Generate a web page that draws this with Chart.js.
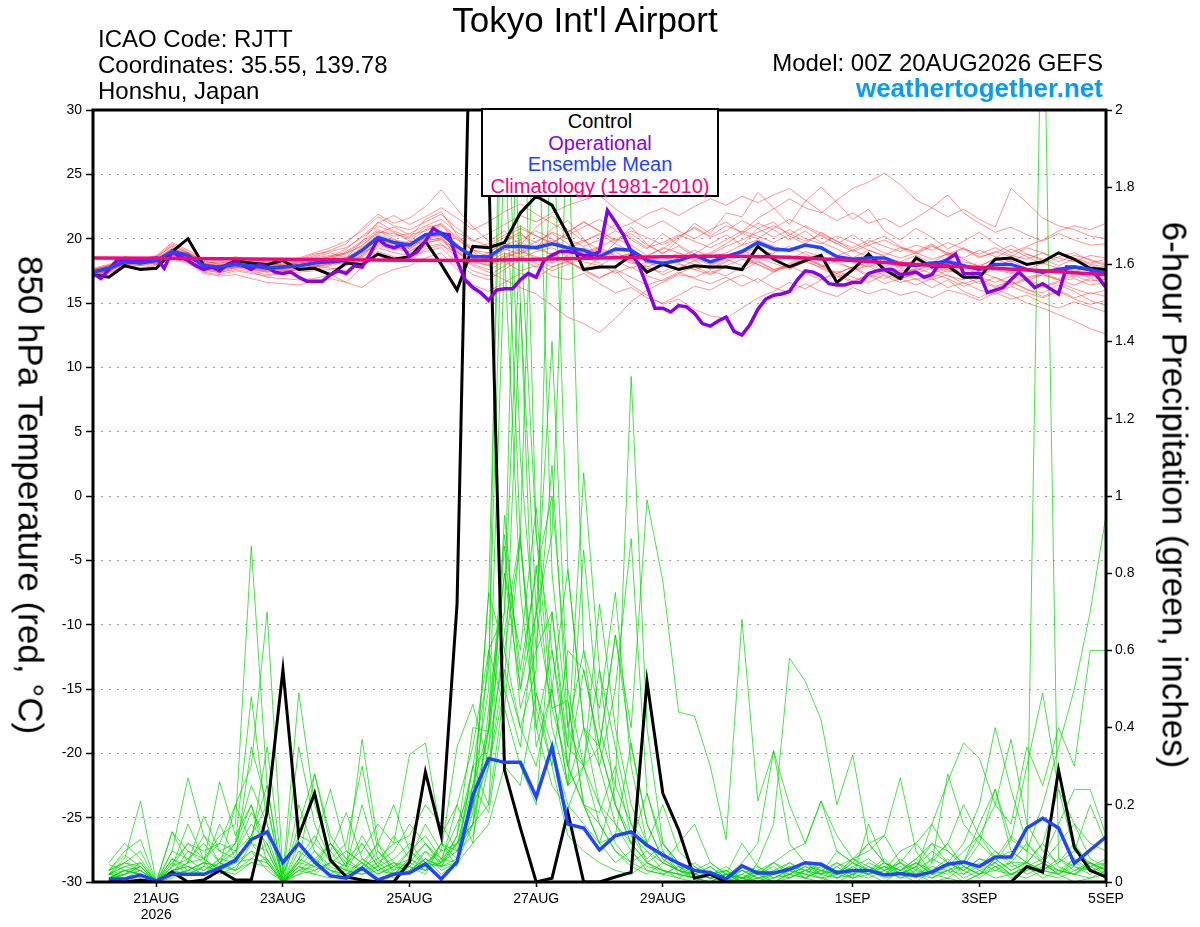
<!DOCTYPE html>
<html>
<head>
<meta charset="utf-8">
<title>Tokyo Int'l Airport - GEFS 850 hPa temperature and precipitation</title>
<script src="https://cdn.jsdelivr.net/npm/chart.js@4.4.1/dist/chart.umd.min.js"></script>
<style>
  html, body { margin: 0; padding: 0; background: #fff; }
  #wrap { position: relative; width: 1200px; height: 927px; overflow: hidden;
          font-family: 'Liberation Sans', Arial, sans-serif; color: #000; }
  #chart { position: absolute; left: 0; top: 0; }
  .txt { position: absolute; white-space: nowrap; line-height: 1; }
  #title { left: 585px; top: 2px; font-size: 35px; transform: translateX(-50%); }
  .info { left: 98px; font-size: 24px; }
  #model { right: 97px; top: 51px; font-size: 24px; }
  #site { right: 97px; top: 75px; font-size: 26px; font-weight: bold; color: #0a9bf5; }
  #legend { position: absolute; left: 481px; top: 108px; width: 238px; height: 89px;
            box-sizing: border-box; border: 2px solid #000; background: #fff;
            text-align: center; font-size: 20px; line-height: 21.5px; padding-top: 1px; }
  .axt { position: absolute; white-space: nowrap; font-size: 35px; line-height: 1;
         transform: translate(-50%, -50%) rotate(90deg); }
</style>
</head>
<body>
<div id="wrap">
  <canvas id="chart" width="1200" height="927"></canvas>
  <div class="txt" id="title">Tokyo Int'l Airport</div>
  <div class="txt info" style="top:27px">ICAO Code: RJTT</div>
  <div class="txt info" style="top:53px">Coordinates: 35.55, 139.78</div>
  <div class="txt info" style="top:79px">Honshu, Japan</div>
  <div class="txt" id="model">Model: 00Z 20AUG2026 GEFS</div>
  <div class="txt" id="site">weathertogether.net</div>
  <div id="legend">
    <div style="color:#000">Control</div>
    <div style="color:#8a00e8">Operational</div>
    <div style="color:#2244ff">Ensemble Mean</div>
    <div style="color:#f5047f">Climatology (1981-2010)</div>
  </div>
  <div class="axt" style="left:31px; top:495px">850 hPa Temperature (red, °C)</div>
  <div class="axt" style="left:1175px; top:495px">6-hour Precipitation (green, inches)</div>
</div>
<script>
// x axis: forecast hour from 00Z 20AUG2026
const tickHours = [24, 72, 120, 168, 216, 288, 336, 384];
const tickLabels = [["21AUG", "2026"], "23AUG", "25AUG", "27AUG", "29AUG", "1SEP", "3SEP", "5SEP"];

// 850 hPa temperature (C), 6-hourly, hour 0..384
const controlTemp = [17.2, 17.0, 17.9, 17.6, 17.7, 19.0, 20.0, 17.9, 17.7, 18.3, 18.1, 18.0, 18.3,
  17.6, 17.7, 17.2, 18.1, 18.0, 18.8, 18.4, 18.6, 19.8, 18.0, 16.0, 19.4, 19.3,
  19.7, 22.0, 23.3, 22.6, 20.3, 17.6, 17.8, 17.8, 18.7, 17.4, 18.0, 17.6, 17.9,
  17.8, 17.8, 17.6, 19.4, 18.4, 17.8, 18.3, 18.7, 16.6, 17.6, 18.8, 17.6, 16.9,
  18.5, 17.8, 17.9, 17.0, 17.0, 18.4, 18.5, 18.0, 18.2, 18.9, 18.4, 17.7, 17.6];

const meanTemp = [17.4, 17.7, 18.2, 18.1, 18.3, 19.0, 18.7, 17.9, 17.8, 18.0, 17.9, 17.7, 17.8,
  17.9, 18.1, 18.2, 18.3, 19.1, 20.1, 19.7, 19.5, 20.3, 20.4, 19.4, 18.6, 18.6,
  19.4, 19.4, 19.3, 19.6, 19.3, 19.1, 18.6, 19.2, 19.1, 18.3, 18.1, 18.3, 18.7,
  18.2, 18.6, 19.0, 19.7, 19.2, 19.1, 19.5, 19.3, 18.6, 18.4, 18.5, 18.5, 18.0,
  17.9, 18.1, 18.2, 17.9, 17.6, 18.0, 18.0, 17.6, 17.4, 17.6, 17.8, 17.6, 17.3];

// operational run is 3-hourly, hour 0..384
const operTemp = [17.3, 16.9, 17.6, 18.3, 18.3, 18.2, 18.3, 18.4, 18.5, 17.7, 19.0, 18.6, 18.3, 17.9, 17.6,
  17.8, 17.5, 18.0, 18.1, 17.9, 17.6, 18.0, 17.8, 17.4, 17.3, 17.4, 17.0, 16.7, 16.7, 16.7,
  17.2, 17.5, 17.3, 17.9, 17.8, 18.8, 20.0, 19.5, 19.3, 19.5, 18.6, 19.0, 19.8, 20.8,
  20.4, 20.3, 18.3, 16.8, 16.2, 15.8, 15.2, 16.0, 16.1, 16.1, 16.8, 17.3, 17.0, 18.3, 18.7,
  19.0, 19.0, 18.9, 18.7, 18.7, 19.0, 22.2, 21.3, 20.3, 19.0, 17.9, 16.3, 14.6, 14.6, 14.3,
  14.8, 14.7, 14.2, 13.4, 13.2, 13.6, 13.9, 12.8, 12.5, 13.3, 14.5, 15.3, 15.6, 15.7,
  15.9, 16.8, 17.5, 17.4, 17.1, 16.5, 16.4, 16.4, 16.6, 16.6, 17.3, 17.5, 17.6, 17.6,
  17.2, 17.3, 17.4, 17.0, 17.2, 18.1, 18.4, 18.8, 17.3, 17.3, 17.3, 15.8, 16.0, 16.2,
  16.8, 17.4, 16.8, 16.2, 16.5, 16.1, 15.7, 17.8, 17.8, 17.7, 17.6, 17.0, 16.2];

// climatology, daily at 00Z
const climoTemp = [18.5, 18.47, 18.43, 18.4, 18.36, 18.32, 18.3, 18.4, 18.5, 18.6, 18.65,
  18.55, 18.3, 18.0, 17.75, 17.5, 17.2];

// ensemble members, 850 hPa temperature, 6-hourly
const memberTemp = [
  [17.6,17.9,18.5,18.0,18.6,19.4,18.9,17.6,17.5,18.3,17.6,17.4,17.9, 18.2,18.6,18.9,18.5,19.8,21.3,20.6,20.1,21.5,22.1,20.3,19.0,18.1,
   19.9,20.5,19.2,20.8,21.4,20.0,18.4,19.7,20.9,19.6,18.8,19.9,21.2, 20.4,22.0,21.7,23.6,22.4,21.1,22.9,24.0,22.8,21.5,22.3,20.6,19.9,
   20.8,20.1,19.2,19.8,20.5,19.6,18.9,19.4,19.9,20.6,21.0,20.7,21.2],
  [17.2,17.5,17.9,18.3,18.0,18.7,18.4,18.1,17.6,17.7,18.2,17.9,17.5, 17.6,17.8,18.0,18.6,18.9,19.5,19.1,19.8,19.6,20.0,18.7,17.9,17.4,
   16.8,16.2,15.7,14.8,13.9,13.4,12.7,13.8,15.1,16.0,16.6,17.2,17.0, 17.5,17.1,17.8,18.3,17.6,18.0,18.4,17.9,17.3,17.8,17.2,17.5,16.9,
   17.3,16.8,17.2,16.5,16.9,16.3,16.7,16.0,15.8,16.4,15.9,15.2,14.8],
  [17.5,17.8,18.0,18.2,18.5,19.2,18.9,18.3,18.0,17.9,18.1,17.9,18.0, 18.3,18.7,19.1,19.6,20.8,21.9,21.2,21.6,22.5,23.8,22.3,20.9,19.8,
   20.6,19.5,20.9,21.8,20.7,19.8,20.3,21.1,19.9,19.2,20.4,19.5,18.8, 19.6,20.3,19.5,20.8,21.3,20.2,19.6,20.5,19.8,19.1,19.7,20.2,19.4,
   18.9,19.5,18.7,19.2,18.5,19.0,18.6,19.3,18.9,18.2,18.7,18.4,18.0],
  [17.0,17.4,18.3,18.0,18.4,18.8,18.6,17.7,17.3,17.8,17.5,17.2,17.4, 17.6,17.9,17.7,17.5,18.4,19.0,18.6,18.3,19.2,19.5,18.9,18.2,17.9,
   18.6,18.9,19.5,18.7,18.2,18.9,19.4,18.6,18.1,17.9,17.2,17.7,18.3, 17.6,18.2,18.7,18.0,17.4,18.1,18.6,17.9,17.0,17.5,17.9,17.1,16.6,
   16.9,16.2,16.8,15.9,15.4,16.1,15.6,15.0,14.6,14.1,13.6,13.0,12.6],
  [17.3,17.6,18.1,18.4,18.2,18.9,18.5,18.0,17.9,17.7,17.8,18.0,17.9, 18.0,17.8,18.4,18.9,19.4,20.6,20.0,19.2,20.1,20.6,19.6,18.4,18.9,
   19.7,19.0,19.8,20.4,19.6,18.8,19.3,20.0,19.5,18.7,19.2,20.1,20.9, 20.2,21.0,20.5,21.6,22.3,23.1,22.4,22.0,23.0,23.9,24.4,25.1,24.2,
   23.0,22.4,21.7,22.3,21.5,20.9,23.9,22.8,21.6,21.0,20.7,20.2,20.0],
  [17.6,17.9,18.4,18.2,18.0,19.1,18.8,18.2,18.1,18.2,18.0,17.6,17.7, 17.8,18.0,18.3,18.1,18.7,19.6,19.4,19.0,19.7,19.9,19.0,18.0,17.6,
   18.2,17.5,17.9,17.1,16.8,17.3,16.5,15.8,16.2,15.4,15.0,15.6,16.3, 16.0,16.7,17.2,16.6,17.4,17.9,17.3,16.8,17.5,17.0,16.6,17.2,16.8,
   17.4,16.9,17.6,17.1,16.5,17.0,16.4,16.8,16.2,16.6,16.1,15.7,16.0],
  [17.4,17.8,18.3,18.0,18.3,19.3,18.6,17.8,17.9,18.1,18.2,17.8,17.6, 17.7,18.4,18.6,18.8,19.5,20.4,20.9,20.3,20.6,21.2,20.1,19.3,19.6,
   20.3,21.0,20.2,19.6,20.5,21.3,20.6,19.8,20.4,19.5,18.9,19.4,18.6, 18.9,19.6,20.4,21.2,20.7,19.9,20.6,19.7,19.2,18.5,19.1,18.6,18.2,
   18.7,18.1,18.9,18.4,17.8,18.5,19.2,18.6,18.0,18.6,18.9,18.3,17.9],
  [17.1,17.6,18.0,18.3,18.1,18.6,18.3,17.5,17.4,17.6,17.4,17.0,16.9, 16.8,16.9,17.2,16.6,17.8,18.7,18.2,18.6,19.0,19.3,18.1,17.2,16.8,
   17.6,18.4,17.8,18.9,18.2,17.6,18.5,19.0,18.3,17.7,17.4,18.0,17.6, 17.2,17.8,17.5,18.2,17.6,17.9,18.4,18.0,17.3,17.8,17.0,17.4,16.9,
   17.3,17.7,17.1,16.8,17.4,17.0,16.5,16.9,16.3,16.7,16.9,16.4,16.6],
  [17.5,17.7,18.2,18.0,18.5,19.5,18.9,18.1,17.8,18.4,18.0,17.9,18.1, 18.1,18.3,18.5,19.0,19.8,20.7,20.2,20.4,21.0,21.5,20.5,19.8,20.4,
   21.1,21.8,21.3,22.0,22.6,23.0,23.4,22.3,21.5,20.8,21.4,20.6,20.0, 20.7,21.3,20.4,20.0,20.8,21.5,20.9,20.2,19.6,20.3,19.5,19.9,19.3,
   19.0,19.6,18.8,19.3,18.6,18.9,19.5,18.8,18.3,18.9,18.5,18.1,18.4],
  [17.3,17.5,18.1,17.9,18.2,18.7,18.5,17.9,17.7,17.9,17.6,17.5,17.6, 17.7,17.9,18.0,18.4,19.0,20.0,19.6,19.3,20.0,20.3,19.2,18.5,18.2,
   18.9,18.5,19.0,19.3,18.6,18.2,17.9,18.6,18.8,18.1,17.8,18.4,18.0, 17.7,18.3,18.9,19.3,18.7,18.4,19.0,18.6,18.1,17.7,18.2,17.9,17.5,
   17.6,17.9,17.4,17.8,17.2,17.6,17.3,16.9,17.2,16.8,17.1,16.7,16.9],
  [17.2,17.4,17.8,17.7,18.0,18.5,18.1,17.3,17.1,17.2,16.9,16.6,16.5, 16.4,16.7,16.9,16.6,16.2,17.1,17.6,17.9,18.5,18.9,17.6,16.4,15.9,
   16.6,17.3,16.9,17.8,18.2,17.5,16.9,17.6,17.0,16.4,16.8,17.4,16.9, 16.5,17.0,16.3,16.9,16.2,15.8,16.5,15.9,15.5,16.2,15.7,16.1,15.6,
   15.9,15.4,16.0,15.7,15.2,15.8,15.3,15.6,15.0,14.6,15.1,14.7,14.3],
  [17.6,17.9,18.4,18.3,18.6,19.6,19.0,18.2,18.1,18.3,18.4,18.2,18.3, 18.5,18.9,19.3,19.8,20.6,21.7,21.0,20.7,21.3,21.9,20.8,19.9,19.4,
   20.1,20.8,20.2,19.7,20.3,20.9,21.5,20.7,21.2,21.9,22.4,21.8,22.5, 23.1,22.6,23.3,22.8,23.4,23.9,23.0,22.1,21.4,22.0,21.2,21.6,20.9,
   21.6,22.4,23.4,22.0,21.2,20.5,20.9,20.3,19.8,20.4,19.9,19.5,19.6],
  [17.4,17.6,18.2,18.1,18.4,19.0,18.7,18.0,17.9,18.0,17.8,17.7,17.8, 18.0,18.2,18.1,18.5,19.3,20.3,19.9,19.7,20.4,20.6,19.5,18.8,18.4,
   19.1,19.7,19.2,18.8,19.4,19.9,19.1,18.5,18.9,18.4,17.9,18.5,19.1, 18.6,18.9,19.5,19.9,19.4,19.0,19.6,19.2,18.7,19.1,18.6,18.2,17.8,
   18.3,17.9,18.4,18.0,17.5,17.9,18.3,17.7,17.3,17.8,17.5,17.2,17.4],
  [17.5,17.8,18.3,18.2,18.3,19.2,18.8,17.9,17.7,18.0,17.9,17.5,17.7, 17.9,18.1,18.4,18.2,19.0,19.9,19.4,19.5,20.1,20.2,19.3,18.4,18.0,
   18.7,19.2,18.4,17.8,18.3,17.6,17.0,17.5,16.4,15.6,14.9,15.3,14.5, 14.0,13.8,14.6,15.4,15.9,16.6,16.1,16.8,17.3,16.7,17.2,16.5,16.9,
   16.4,16.9,16.2,16.6,16.0,15.7,16.3,15.8,15.4,15.9,15.3,14.9,15.2],
  [17.7,18.0,18.6,18.4,18.7,19.7,19.1,18.4,18.3,18.6,18.3,18.1,18.0, 18.4,18.8,19.0,19.3,20.1,21.0,20.5,19.8,20.7,21.0,19.9,19.1,18.9,
   19.8,20.3,19.7,20.5,20.0,19.4,19.9,20.6,20.1,19.3,19.7,20.3,19.8, 19.3,19.9,20.6,20.2,19.7,20.3,21.0,20.4,19.8,19.3,19.9,19.4,19.0,
   19.5,19.1,19.7,19.2,18.8,19.3,18.7,18.4,18.9,18.5,18.2,18.7,18.5],
  [17.0,17.3,17.8,17.6,17.9,18.4,18.2,17.4,17.2,17.5,17.3,17.1,17.3, 17.4,17.5,17.6,17.9,18.6,19.3,18.9,18.7,19.4,19.6,18.5,17.5,17.1,
   17.9,18.6,18.1,17.5,18.0,18.6,18.1,17.3,17.8,17.1,16.7,17.3,17.8, 17.3,17.9,18.4,18.0,17.5,17.8,18.3,17.7,17.1,16.6,17.2,16.9,17.4,
   16.8,17.3,16.9,16.3,16.7,16.2,16.6,16.1,15.5,16.0,15.4,15.8,15.5],
  [17.3,17.7,18.2,18.2,18.4,19.1,18.6,18.0,17.9,18.2,18.1,17.8,17.9, 18.1,18.3,18.6,19.2,20.2,21.2,21.8,21.1,21.7,22.4,21.6,20.7,21.3,
   22.1,22.7,21.9,21.2,20.5,21.3,20.6,19.9,20.6,20.1,19.5,20.2,20.8, 20.1,20.6,21.4,20.8,20.1,20.7,20.0,19.6,20.2,19.7,19.1,18.7,19.3,
   18.8,19.4,18.9,18.5,19.1,18.6,18.2,18.8,18.4,17.9,18.4,18.0,17.8],
  [17.2,17.5,18.0,17.9,18.1,18.8,18.4,17.7,17.6,17.8,17.7,17.6,17.7, 17.8,17.6,17.9,18.2,18.8,19.7,19.2,19.0,19.8,20.1,19.0,18.2,18.5,
   19.2,18.8,19.4,19.9,19.3,18.7,19.2,18.7,18.2,17.8,18.3,18.9,18.4, 18.0,18.5,19.1,18.6,18.9,19.4,18.8,18.3,18.7,18.2,17.8,18.3,17.7,
   17.5,18.0,17.6,17.1,17.5,17.9,17.4,17.0,17.3,16.9,17.3,17.0,16.8],
  [17.5,17.9,18.4,18.1,18.2,19.0,18.9,18.1,18.0,18.1,18.2,18.0,17.9, 18.2,18.5,18.7,18.9,19.7,20.5,20.4,20.0,20.9,21.1,20.0,19.1,18.6,
   19.5,19.9,20.6,20.0,19.2,19.8,20.4,19.6,19.0,18.6,19.3,18.9,18.3, 18.8,19.4,19.9,20.5,21.0,20.4,19.8,20.3,19.6,19.0,19.5,18.9,18.5,
   18.9,18.4,18.8,18.2,17.9,18.4,18.0,17.6,18.1,17.7,17.4,17.9,17.6],
  [17.4,17.6,18.1,18.2,18.3,18.9,18.6,17.8,17.5,17.9,17.7,17.4,17.5, 17.6,17.8,18.1,18.0,18.7,19.8,19.3,19.2,19.9,20.0,19.1,18.3,17.9,
   18.5,19.0,18.6,18.1,18.7,19.3,18.8,18.3,17.7,18.2,18.7,18.1,17.6, 17.9,18.4,17.9,18.5,18.1,17.6,18.2,17.8,18.3,17.6,18.0,17.5,17.2,
   17.7,17.3,17.8,17.3,17.0,16.6,17.1,16.7,17.2,16.8,16.4,16.9,16.5]
];

// 6-hour precipitation (inches), hour 6..384
const controlPrecip = [0.005, 0, 0.005, 0, 0.026, 0, 0.005, 0.03, 0.005, 0.005, 0.18, 0.55, 0.12, 0.23, 0.057, 0.013,
  0.005, 0, 0, 0.052, 0.285, 0.12, 0.72, 2.6, 1.85, 0.29, 0.14, 0, 0.01, 0.18, 0, 0,
  0.013, 0.025, 0.52, 0.23, 0.135, 0.01, 0.02, 0, 0, 0, 0, 0, 0, 0, 0, 0,
  0, 0, 0, 0, 0, 0, 0, 0, 0, 0, 0.04, 0.026, 0.29, 0.09, 0.03, 0.013];

const meanPrecip = [0.008, 0.008, 0.018, 0.003, 0.02, 0.02, 0.02, 0.036, 0.057, 0.11, 0.13, 0.05, 0.10, 0.052, 0.016, 0.01,
  0.036, 0.005, 0.02, 0.024, 0.047, 0.008, 0.052, 0.225, 0.32, 0.31, 0.31, 0.22, 0.35, 0.15, 0.14, 0.083,
  0.12, 0.13, 0.095, 0.07, 0.048, 0.03, 0.024, 0.008, 0.042, 0.023, 0.023, 0.033, 0.05, 0.046, 0.024, 0.03,
  0.03, 0.018, 0.022, 0.016, 0.026, 0.046, 0.052, 0.04, 0.065, 0.065, 0.14, 0.165, 0.14, 0.048, 0.083, 0.117];

const memberPrecip = [
  [.03,.05,.08,0,.04,.10,.06,.12,.15,.87,.25,0,.10,.06,.03,.02, .05,.01,.02,.06,.10,.04,.12,.30,.56,1.95,.88,.45,.30,.12,.08,.05,
   .03,.02,.05,.03,.01,0,.02,.04,.01,0,.03,.05,.02,.01,0,.02, .01,.03,.05,.02,0,.01,.04,.02,.06,.03,.05,.02,.01,.03,.05,.02],
  [.02,.06,.21,0,.08,.27,.12,.05,.03,.10,.35,.02,.49,.20,.08,.03, .10,.04,.02,.05,.03,.06,.15,.25,.40,.80,.50,.70,1.40,.47,.20,.10,
   .25,1.31,.40,.10,.05,.02,.01,.03,0,.02,.05,.03,.01,.04,.02,.06, .03,.05,.02,.04,.08,.05,.03,.06,.04,.05,.05,2.5,.06,.03,.04,.02],
  [0,.02,.05,0,.13,.05,.17,.08,.10,.48,.15,.01,.05,.28,.10,.04, .37,.10,.05,.02,.08,.03,.05,.20,.75,2.30,1.10,.60,.70,.30,.55,.35,
   .64,.40,.99,.78,.44,.43,.30,.11,.68,.21,.34,.10,.05,.02,.03,.01, .02,0,.03,.05,.02,.01,0,.02,.04,.01,.03,.05,.02,0,.01,.03],
  [.01,.03,.04,0,.02,.08,.05,.26,.12,.20,.05,0,.03,.06,.10,.05, .08,.15,.10,.33,.36,.12,.20,.35,.60,.70,1.70,.90,.60,.35,1.06,.55,
   .20,.10,.05,.02,.01,.03,.01,.02,0,.05,.15,.58,.52,.42,.20,.33, .10,.05,.02,.04,.01,.03,0,.02,.05,.02,.01,.03,.02,.05,.03,.01],
  [.05,.10,.06,0,.03,.04,.02,.06,.05,.12,.20,0,.15,.28,.12,.06, .10,.04,.06,.10,.05,.08,.35,.46,.30,.65,.90,2.20,.80,.40,.60,.45,
   .75,.30,.10,.05,.03,.02,.01,.02,0,.03,.01,.02,.04,.02,.08,.05, .10,.12,.27,.08,.02,.05,.10,.20,.40,.24,.10,.05,.03,.02,.04,.05],
  [.045,.03,.02,0,.05,.10,.08,.10,.20,.30,.70,.02,.12,.10,.24,.08, .05,.10,.20,.08,.04,.10,.08,.15,.40,.90,.55,.80,1.00,.50,.30,.55,
   .35,.15,.05,.08,.03,.01,.02,0,.03,.01,.02,.04,.01,.03,.02,.06, .04,.02,.05,.10,.15,.26,.36,.32,.20,.37,.15,.08,.05,.10,.04,.06],
  [.02,.04,.03,0,.06,.03,.05,.04,.08,.15,.10,0,.06,.04,.08,.18, .06,.03,.02,.04,.08,.05,.10,.25,.50,2.80,1.50,.70,.45,.47,.20,.15,
   .08,.05,.03,.02,.04,.01,0,.02,.01,.03,.05,.02,.01,0,.03,.02, .05,.03,.01,.02,.06,.04,.08,.12,.20,.15,.35,.25,.40,.30,.60,.60],
  [.03,.08,.11,0,.08,.06,.10,.05,.10,.25,.15,.01,.35,.15,.06,.10, .30,.08,.03,.05,.10,.06,.05,.18,.75,.60,.40,.55,2.10,.81,.40,.30,
   .50,.89,.23,.10,.05,.03,.02,.01,.03,.02,0,.01,.03,.05,.02,.04, .06,.03,.08,.10,.05,.28,.15,.10,.06,.12,.08,.20,.35,.50,.70,.95],
  [.02,.02,.04,0,.03,.05,.12,.08,.06,.35,.20,0,.04,.08,.03,.02, .04,.06,.10,.12,.20,.15,.08,.30,.35,.60,.88,.49,.30,.60,.55,.35,
   .64,.35,.15,.06,.03,.02,.04,.01,.02,0,.01,.03,.02,.05,.01,.03, .02,.05,.03,.06,.10,.08,.05,.15,.24,.11,.30,.49,.24,.15,.10,.08],
  [.01,.03,.02,0,.04,.15,.06,.10,.08,.18,.12,0,.08,.05,.10,.04, .12,.05,.08,.15,.10,.05,.12,.40,.39,1.63,.75,.40,.25,.19,.30,.35,
   .20,.12,.08,.05,.10,.15,.05,.02,0,.01,.03,.02,.05,.03,.01,.02, .03,.01,.02,0,.03,.02,.05,.03,.01,.02,.04,.06,.03,.02,.05,.03],
  [.03,.05,.04,0,.02,.03,.05,.02,.04,.08,.06,0,.02,.03,.05,.02, .03,.08,.04,.06,.03,.10,.06,.30,.20,.50,.35,.70,.90,2.00,.60,.30,
   .15,.10,.23,.08,.02,.01,0,.02,.01,.03,0,.02,.01,.03,.05,.02, .04,.02,.06,.03,.15,.08,.04,.10,.24,.08,.05,.03,.06,.04,.02,.05],
  [.02,.01,.03,0,.05,.02,.04,.15,.06,.10,.05,0,.06,.12,.05,.03, .05,.02,.04,.08,.12,.06,.10,.15,.60,.45,.90,.35,.50,.25,.86,.40,
   .25,.15,.10,.20,.08,.04,.02,.03,.01,0,.02,.04,.03,.01,.02,.05, .03,.04,.02,.05,.03,.06,.02,.04,.08,.05,.10,.06,.15,.24,.24,.12],
  [.02,.04,.05,0,.13,.08,.06,.03,.05,.06,.10,0,.20,.08,.04,.02, .06,.03,.05,.02,.06,.04,.10,.15,.35,.87,.45,.60,1.08,.40,.30,.72,
   .40,.20,.10,.05,.03,.02,.04,.01,.05,.10,.34,.20,.10,.21,.08,.05, .02,.04,.01,.03,.02,.05,.03,.01,.04,.02,.03,.05,.02,.04,.03,.01],
  [.01,.02,.03,0,.06,.04,.03,.05,.08,.12,.25,0,.05,.10,.06,.04, .20,.06,.03,.08,.05,.04,.06,.20,.39,.70,2.40,.90,.45,.30,.20,.18,
   .30,.12,.06,.10,.04,.02,.01,0,.02,.04,.01,.03,.02,.01,.04,.06, .08,.12,.05,.03,.06,.10,.20,.12,.06,.08,.05,.10,.24,.08,.05,.03],
  [0,.01,.02,0,.01,.03,.02,.04,.20,.10,.08,0,.03,.02,.01,.03, .02,.04,.01,.03,.06,.02,.05,.10,.15,.30,.25,.49,.35,.20,.15,.10,
   .12,.36,.15,.06,.03,.05,.02,.01,0,.02,.05,.08,.10,.21,.12,.06, .10,.05,.03,.06,.02,.04,.01,.03,.05,.02,.04,.01,.03,.02,.01,.02],
  [.03,.07,.04,0,.02,.05,.06,.03,.02,.05,.04,0,.02,.05,.03,.01, .04,.10,.02,.04,.03,.05,.20,.10,.45,.80,.60,.97,.50,.25,.40,.20,
   .10,.05,.08,.03,.02,.01,.03,0,.01,.02,.04,.01,.03,.02,.01,.04, .02,.03,.05,.02,.01,.03,.05,.12,.08,.04,.05,.03,.02,.06,.03,.04],
  [.01,.03,.02,0,.03,.02,.04,.03,.05,.08,.03,0,.04,.02,.05,.03, .02,.03,.05,.04,.02,.10,.04,.25,.18,.45,.30,.20,.70,.35,.30,.15,
   .08,.04,.02,.05,.03,.01,.02,.03,0,.01,.02,.03,.05,.02,.04,.01, .03,.02,.04,.01,.05,.10,.04,.02,.06,.03,.05,.10,.04,.02,.05,.03],
  [.02,.05,.03,0,.04,.06,.03,.06,.10,.20,.08,0,.05,.04,.10,.06, .03,.05,.02,.06,.15,.08,.10,.20,.30,.55,.40,.30,.50,.81,.40,.35,
   .20,.10,.05,.03,.02,.04,.01,.02,.03,.01,0,.02,.04,.03,.02,.05, .03,.06,.02,.04,.10,.05,.03,.06,.05,.11,.08,.05,.10,.15,.06,.04],
  [.02,.03,.02,0,.03,.04,.02,.05,.03,.06,.05,0,.03,.04,.02,.05, .03,.04,.12,.06,.04,.05,.08,.12,.30,.50,1.50,.40,.60,.30,.20,.10,
   .05,.08,.03,.02,.04,.03,.05,.02,.10,.04,.02,.01,.03,.02,.05,.03, .02,.04,.03,.05,.02,.03,.04,.02,.03,.05,.02,.04,.03,.06,.05,.03],
  [.01,.02,.04,0,.02,.03,.05,.04,.03,.05,.06,0,.04,.03,.05,.08, .05,.02,.04,.03,.06,.04,.05,.15,.20,.95,.50,.82,.40,.25,.30,.20,
   .15,.08,.04,.03,.02,.01,0,.02,.01,.03,.02,.05,.03,.04,.02,.01, .15,.05,.03,.02,.04,.03,.02,.05,.03,.02,.04,.03,.05,.08,.20,.10]
];

Chart.defaults.font.family = "'Liberation Sans', Arial, sans-serif";
Chart.defaults.color = "#000";

function series(vals, stepHours, firstHour) {
  return vals.map((v, i) => ({ x: firstHour + i * stepHours, y: v }));
}

function line(data, color, width, axis, order) {
  return {
    data: data, borderColor: color, borderWidth: width, yAxisID: axis, order: order,
    pointRadius: 0, fill: false, tension: 0
  };
}

const datasets = [];
memberPrecip.forEach(m => datasets.push(line(series(m, 6, 6), "rgba(0,215,0,0.9)", 0.8, "yP", 20)));
memberTemp.forEach(m => datasets.push(line(series(m, 6, 0), "rgba(255,55,55,0.6)", 0.9, "yT", 19)));
datasets.push(line(series(controlPrecip, 6, 6), "#000", 3, "yP", 6));
datasets.push(line(series(meanPrecip, 6, 6), "#2244ff", 3.5, "yP", 5));
datasets.push(line(series(controlTemp, 6, 0), "#000", 3, "yT", 4));
datasets.push(line(series(operTemp, 3, 0), "#8a00e8", 3.5, "yT", 3));
datasets.push(line(series(meanTemp, 6, 0), "#2244ff", 3.5, "yT", 2));
datasets.push(line(series(climoTemp, 24, 0), "#f5047f", 3.5, "yT", 1));

const framePlugin = {
  id: "frame",
  afterDatasetsDraw(chart) {
    const { ctx, chartArea: a } = chart;
    ctx.save();
    ctx.lineWidth = 3;
    ctx.strokeStyle = "#000";
    ctx.strokeRect(a.left, a.top, a.right - a.left, a.bottom - a.top);
    ctx.restore();
  }
};

new Chart("chart", {
  type: "line",
  data: { datasets: datasets },
  plugins: [framePlugin],
  options: {
    responsive: false,
    animation: false,
    events: [],
    layout: { padding: { top: 110, left: 0, right: 0, bottom: 0 } },
    plugins: { legend: { display: false }, tooltip: { enabled: false } },
    scales: {
      x: {
        type: "linear", position: "bottom", min: 0, max: 384,
        afterFit: s => { s.height = 45; },
        afterBuildTicks: s => { s.ticks = tickHours.map(v => ({ value: v })); },
        ticks: {
          autoSkip: false, maxRotation: 0, padding: 4,
          font: { size: 14, lineHeight: 1.15 },
          callback: v => tickLabels[tickHours.indexOf(v)]
        },
        grid: { drawOnChartArea: false, tickLength: 5, tickColor: "#000", tickWidth: 1.5 },
        border: { display: false }
      },
      yT: {
        type: "linear", position: "left", min: -30, max: 30,
        afterFit: s => { s.width = 93; },
        ticks: { stepSize: 5, padding: 4, font: { size: 14 } },
        grid: {
          color: c => (c.tick && Math.abs(c.tick.value) === 30) ? "rgba(0,0,0,0)" : "#a0a0a0",
          lineWidth: 1, tickLength: 7, tickColor: "#000", tickWidth: 1.5
        },
        border: { display: false, dash: [2, 6] }
      },
      yP: {
        type: "linear", position: "right", min: 0, max: 2,
        afterFit: s => { s.width = 94; },
        ticks: { stepSize: 0.2, padding: 3, font: { size: 14 }, callback: v => String(Math.round(v * 10) / 10) },
        grid: { drawOnChartArea: false, tickLength: 6, tickColor: "#000", tickWidth: 1.5 },
        border: { display: false }
      }
    }
  }
});
</script>
</body>
</html>
